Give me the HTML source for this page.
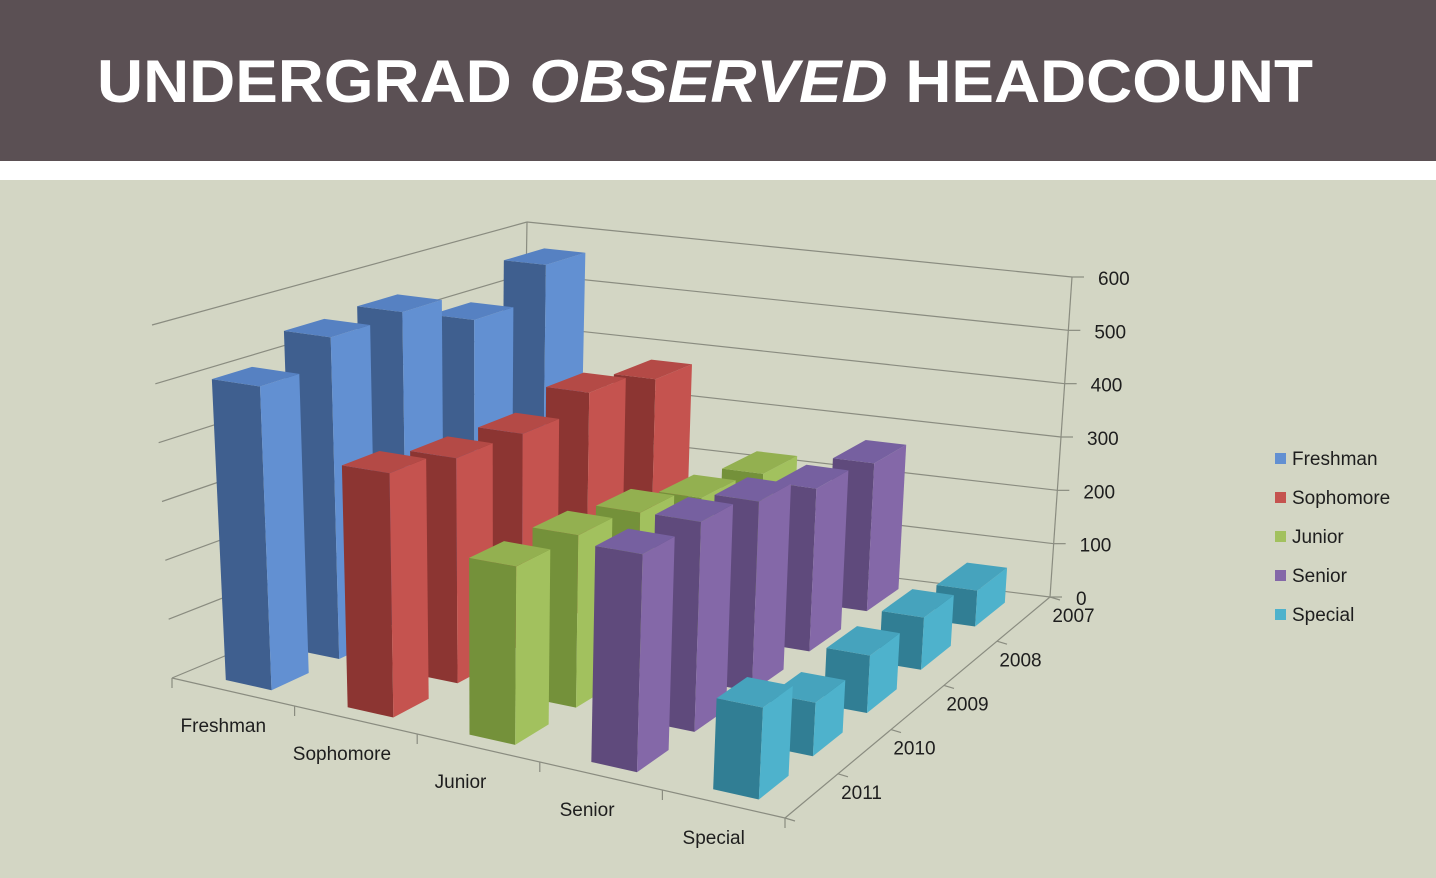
<!DOCTYPE html>
<html><head><meta charset="utf-8"><style>
html,body{margin:0;padding:0;width:1436px;height:878px;overflow:hidden;background:#d3d6c4;font-family:"Liberation Sans",sans-serif}
#hdr{position:absolute;left:0;top:0;width:1436px;height:161px;background:#5b5054}
#strip{position:absolute;left:0;top:161px;width:1436px;height:19px;background:#fff}
svg{position:absolute;left:0;top:0}
</style></head><body>
<div id="hdr"></div>
<div id="strip"></div>
<svg id="c" width="1436" height="878">
<text x="97" y="102" fill="#fff" font-size="60" font-weight="bold" textLength="1216" lengthAdjust="spacingAndGlyphs">UNDERGRAD <tspan font-style="italic">OBSERVED</tspan> HEADCOUNT</text>
</svg>
<script>
const categories=["Freshman","Sophomore","Junior","Senior","Special"];
const years=["2007","2008","2009","2010","2011"];
const freshman=[565,505,560,555,510];
const sophomore=[375,400,375,380,400];
const junior=[225,240,270,285,285];
const senior=[270,285,320,340,340];
const special=[65,90,95,85,140];
const yTicks=[0,100,200,300,400,500,600];
const series=[freshman,sophomore,junior,senior,special];
const colorsDark=["#3f5f8f","#8c3532","#74913a","#5f4a7c","#317e94"];
const colorsLight=["#6290d2","#c5534f","#a2c15e","#8468a8","#4eb2cc"];
const colorsTop=["#5681c2","#b44a46","#93b050","#7660a0","#46a3bd"];
const YMAX=600;
const svg=document.getElementById('c');
const NS="http://www.w3.org/2000/svg";
const F0=[172,678],F1=[785,818],B0=[522,532],B1=[1050,597];
const T0=[152,325],T1=[805,418],U0=[527,222],U1=[1072,277];
function bil(a,b,c,d,u,v){const x0=a[0]+(b[0]-a[0])*u,y0=a[1]+(b[1]-a[1])*u,x1=c[0]+(d[0]-c[0])*u,y1=c[1]+(d[1]-c[1])*u;return[x0+(x1-x0)*v,y0+(y1-y0)*v];}
function P(u,v,val){const b=bil(F0,F1,B0,B1,u,v),t=bil(T0,T1,U0,U1,u,v),h=val/YMAX;return[b[0]+(t[0]-b[0])*h,b[1]+(t[1]-b[1])*h];}
function el(tag,attrs){const e=document.createElementNS(NS,tag);for(const k in attrs)e.setAttribute(k,attrs[k]);svg.appendChild(e);return e;}
function poly(pts,fill,name){const e=el('polygon',{points:pts.map(p=>p.join(',')).join(' '),fill:fill});return e;}
function line(a,b,name){const e=el('line',{x1:a[0],y1:a[1],x2:b[0],y2:b[1],stroke:'#8a8c80','stroke-width':1.2});}
function txt(x,y,s,name,anchor){const e=el('text',{x:x,y:y,'font-size':19,fill:'#1e1e1e','text-anchor':anchor||'middle'});e.textContent=s;}
yTicks.forEach(t=>{line(P(0,0,t),P(0,1,t),'left-wall-gridline');line(P(0,1,t),P(1,1,t),'back-wall-gridline');
 const p=P(1,1,t);line(p,[p[0]+12,p[1]],'value-tick');txt(p[0]+26,p[1]+8,String(t),'value-tick-label','start');});
line(P(0,1,0),P(0,1,YMAX),'back-left-edge');line(P(1,1,0),P(1,1,YMAX),'value-axis');
line(P(0,0,0),P(1,0,0),'category-axis');line(P(1,0,0),P(1,1,0),'depth-axis');
const nC=categories.length,nY=years.length;
for(let i=0;i<=nC;i++){const p=P(i/nC,0,0);line(p,[p[0],p[1]+10],'category-tick');}
for(let j=0;j<=nY;j++){const p=P(1,j/nY,0);line(p,[p[0]+10,p[1]+3],'depth-tick');}
categories.forEach((c,i)=>{const p=P((i+0.5)/nC,0,0);txt(p[0]-10-(2-Math.abs(i-2))*4,p[1]+40,c,'category-label-'+c.toLowerCase());});
years.forEach((y,j)=>{const v=(nY-1-j+0.5)/nY;const p=P(1,v,0);txt(p[0]+50,p[1]+3,y,'year-label-'+y);});
const bw=0.075,bd=0.11;
for(let j=0;j<nY;j++){
 const v0=(nY-1-j+0.5)/nY-bd/2,v1=v0+bd;
 for(let i=0;i<nC;i++){
  const val=series[i][j];const u0=(i+0.5)/nC-bw/2,u1=u0+bw;
  const nm=categories[i].toLowerCase()+'-'+years[j];
  poly([P(u0,v0,0),P(u1,v0,0),P(u1,v0,val),P(u0,v0,val)],colorsDark[i],'bar-front-'+nm);
  poly([P(u1,v0,0),P(u1,v1,0),P(u1,v1,val),P(u1,v0,val)],colorsLight[i],'bar-side-'+nm);
  poly([P(u0,v0,val),P(u1,v0,val),P(u1,v1,val),P(u0,v1,val)],colorsTop[i],'bar-top-'+nm);
 }
}
categories.forEach((c,i)=>{const y=458+i*39;
 const r=el('rect',{x:1275,y:y-5,width:11,height:11,fill:colorsLight[i]});
 
 txt(1292,y+7,c,'legend-entry-'+c.toLowerCase(),'start');});
</script>
</body></html>
